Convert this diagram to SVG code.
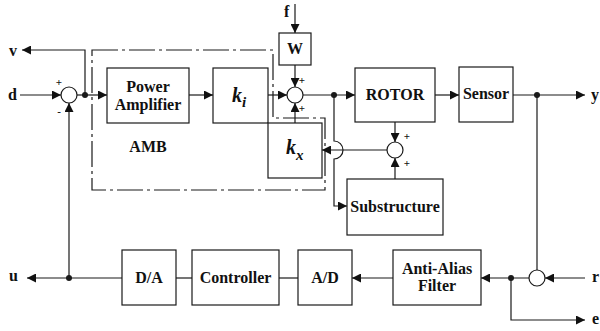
<svg xmlns="http://www.w3.org/2000/svg" width="600" height="331" viewBox="0 0 600 331" font-family="'Liberation Serif', 'Times New Roman', serif">
<style>
.box{fill:#fff;stroke:#1a1a1a;stroke-width:1.2}
.sum{fill:#fff;stroke:#1a1a1a;stroke-width:1.2}
.ln{fill:none;stroke:#1a1a1a;stroke-width:1.2}
.arr{marker-end:url(#ah)}
.dot{fill:#1a1a1a}
.amb{fill:none;stroke:#1a1a1a;stroke-width:1.2;stroke-dasharray:26,4,3,4}
text{font-family:'Liberation Serif','Times New Roman',serif;font-weight:bold;fill:#111;font-size:16px}
.c{text-anchor:middle}
.sg{font-size:11px;text-anchor:middle}
.k{font-style:italic;font-size:20px}
.sub{font-style:italic;font-size:15px}
</style>
<defs>
<marker id="ah" markerUnits="userSpaceOnUse" markerWidth="10" markerHeight="9" refX="9" refY="4.5" orient="auto">
<path d="M0,0 L9,4.5 L0,9 Z" fill="#111"/>
</marker>
</defs>
<rect width="600" height="331" fill="#fff"/>

<g id="amb-boundary">
<path class="amb" d="M92,50 H273 V118 H325 V190 H92 Z"/>
<text class="c" x="148" y="152">AMB</text>
</g>

<g id="connectors">
<path class="ln arr" d="M20,95 H61"/>
<path class="ln arr" d="M77,95 H107"/>
<path class="ln arr" d="M85,95 V50 H22"/>
<path class="ln arr" d="M69,278 V103"/>
<path class="ln arr" d="M189,95 H213"/>
<path class="ln arr" d="M268,95 H287"/>
<path class="ln arr" d="M295,4 V33"/>
<path class="ln arr" d="M295,65 V87"/>
<path class="ln arr" d="M295,123 V103"/>
<path class="ln arr" d="M303,95 H355"/>
<path class="ln arr" d="M334,95 V141 A9,9 0 0 1 334,159 V206 H347"/>
<path class="ln arr" d="M435,95 H459"/>
<path class="ln arr" d="M513,95 H585"/>
<path class="ln" d="M537,95 V270"/>
<path class="ln arr" d="M395,122 V142"/>
<path class="ln arr" d="M395,179 V158"/>
<path class="ln arr" d="M387,150 H322"/>
<path class="ln arr" d="M585,278 H545"/>
<path class="ln arr" d="M529,278 H481"/>
<path class="ln arr" d="M511,278 V320 H585"/>
<path class="ln arr" d="M393,278 H352"/>
<path class="ln" d="M298,278 H279"/>
<path class="ln" d="M192,278 H176"/>
<path class="ln arr" d="M122,278 H27"/>
<circle class="dot" cx="85" cy="95" r="3"/>
<circle class="dot" cx="334" cy="95" r="3"/>
<circle class="dot" cx="537" cy="95" r="3"/>
<circle class="dot" cx="69" cy="278" r="3"/>
<circle class="dot" cx="511" cy="278" r="3"/>
</g>

<g id="labels">
<text x="9" y="56">v</text>
<text x="8" y="100">d</text>
<text x="9" y="281">u</text>
<text x="284" y="17">f</text>
<text x="591" y="100">y</text>
<text x="592" y="282">r</text>
<text x="592" y="324">e</text>
</g>

<g id="sum1">
<circle class="sum" cx="69" cy="95" r="8"/>
<text class="sg" x="59" y="86">+</text>
<text class="sg" x="59" y="115">-</text>
</g>

<g id="power-amplifier">
<rect class="box" x="107" y="68" width="82" height="55"/>
<text class="c" x="148" y="92">Power</text>
<text class="c" x="148" y="110">Amplifier</text>
</g>

<g id="ki">
<rect class="box" x="213" y="68" width="55" height="55"/>
<text x="232" y="102"><tspan class="k">k</tspan><tspan class="sub" dy="5">i</tspan></text>
</g>

<g id="kx">
<rect class="box" x="268" y="123" width="54" height="55"/>
<text x="286" y="154"><tspan class="k">k</tspan><tspan class="sub" dy="6">x</tspan></text>
</g>

<g id="W">
<rect class="box" x="279" y="33" width="32" height="32"/>
<text class="c" x="295" y="54">W</text>
</g>

<g id="sum2">
<circle class="sum" cx="295" cy="95" r="8"/>
<text class="sg" x="302" y="84">+</text>
<text class="sg" x="302" y="112">+</text>
</g>

<g id="rotor">
<rect class="box" x="355" y="68" width="80" height="54"/>
<text class="c" x="395" y="100">ROTOR</text>
</g>

<g id="sensor">
<rect class="box" x="459" y="67" width="54" height="55"/>
<text class="c" x="486" y="99">Sensor</text>
</g>

<g id="sum3">
<circle class="sum" cx="395" cy="150" r="8"/>
<text class="sg" x="407" y="140">+</text>
<text class="sg" x="407" y="167">+</text>
</g>

<g id="substructure">
<rect class="box" x="347" y="179" width="96" height="56"/>
<text class="c" x="395" y="212">Substructure</text>
</g>

<g id="da">
<rect class="box" x="122" y="250" width="54" height="55"/>
<text class="c" x="149" y="283">D/A</text>
</g>

<g id="controller">
<rect class="box" x="192" y="250" width="87" height="55"/>
<text class="c" x="235.5" y="283">Controller</text>
</g>

<g id="ad">
<rect class="box" x="298" y="250" width="54" height="55"/>
<text class="c" x="325" y="283">A/D</text>
</g>

<g id="anti-alias">
<rect class="box" x="393" y="250" width="88" height="55"/>
<text class="c" x="437" y="274">Anti-Alias</text>
<text class="c" x="437" y="291">Filter</text>
</g>

<g id="sum4">
<circle class="sum" cx="537" cy="278" r="8"/>
</g>
</svg>
